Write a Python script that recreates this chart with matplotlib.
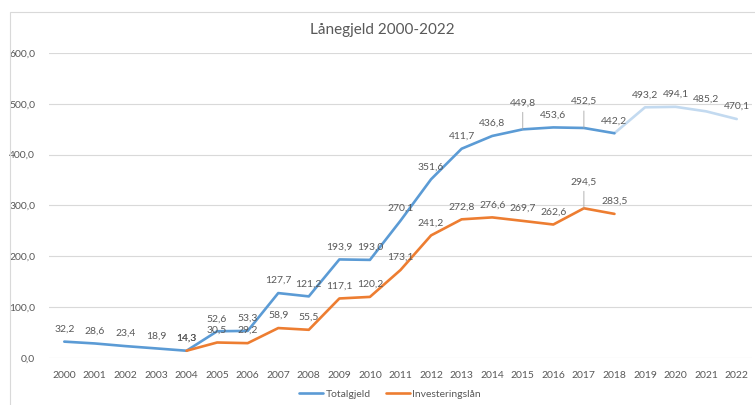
import matplotlib.pyplot as plt
from matplotlib.patches import Rectangle

plt.rcParams['font.family'] = ['Lato', 'DejaVu Sans']

years = [str(y) for y in range(2000, 2023)]

# Totalgjeld, 2000-2018 faktisk, 2019-2022 prognose
total = [32.2, 28.6, 23.4, 18.9, 14.3, 52.6, 53.3, 127.7, 121.2, 193.9, 193.0,
         270.1, 351.6, 411.7, 436.8, 449.8, 453.6, 452.5, 442.2,
         493.2, 494.1, 485.2, 470.1]
last_actual = 18  # index for 2018

# Investeringslån fra 2004 til 2018
invest_years = list(range(4, 19))
invest = [14.3, 30.5, 29.2, 58.9, 55.5, 117.1, 120.2, 173.1, 241.2, 272.8,
          276.6, 269.7, 262.6, 294.5, 283.5]

# etiketter som er løftet med strek
lifted_total = [15, 17]
lifted_invest = [17]

blue = '#5B9BD5'
light_blue = '#C3DAF0'
orange = '#ED7D31'
txt = '#595959'

fig = plt.figure(figsize=(7.55, 4.05), dpi=100)
fig.patches.append(Rectangle((10 / 755, -0.1), 1.0, 1 - 12 / 405 + 0.1,
                             transform=fig.transFigure, fill=False,
                             edgecolor='#D9D9D9', linewidth=0.8))

ax = fig.add_axes([49 / 755, 47 / 405, 703 / 755, 305 / 405])

x = list(range(len(years)))
ax.plot(x[last_actual:], total[last_actual:], color=light_blue, linewidth=1.9,
        solid_capstyle='round')
ax.plot(x[:last_actual + 1], total[:last_actual + 1], color=blue, linewidth=1.9,
        solid_capstyle='round', label='Totalgjeld')
ax.plot(invest_years, invest, color=orange, linewidth=1.9,
        solid_capstyle='round', label='Investeringslån')


def fmt(v):
    return f'{v:.1f}'.replace('.', ',')


def label(xi, v, lifted):
    if lifted:
        ax.annotate(fmt(v), (xi, v), xytext=(0, 19), textcoords='offset points',
                    ha='center', va='center', fontsize=7.5, color=txt,
                    arrowprops=dict(arrowstyle='-', color='#A6A6A6', lw=0.6,
                                    shrinkA=1.5, shrinkB=0))
    else:
        ax.annotate(fmt(v), (xi, v), xytext=(0, 9), textcoords='offset points',
                    ha='center', va='center', fontsize=7.5, color=txt)


for i, v in enumerate(total):
    label(i, v, i in lifted_total)
for i, v in zip(invest_years, invest):
    label(i, v, i in lifted_invest)

ax.set_xlim(-0.5, len(years) - 0.5)
ax.set_ylim(0, 600)
ax.set_xticks(x)
ax.set_xticklabels(years)
ax.set_yticks(range(0, 601, 100))
ax.set_yticklabels([fmt(v) for v in range(0, 601, 100)])
ax.tick_params(length=0, labelsize=7.5, labelcolor=txt, pad=9)
ax.tick_params(axis='y', pad=10)
ax.grid(axis='y', color='#D9D9D9', linewidth=0.8)
ax.set_axisbelow(True)
for s in ax.spines.values():
    s.set_visible(False)

fig.text(382 / 755, 1 - 30 / 405, 'Lånegjeld 2000-2022', ha='center', va='center',
         fontsize=11, color=txt)

fig.legend(loc='center', bbox_to_anchor=(390 / 755, 1 - 394 / 405), ncol=2,
           frameon=False, fontsize=7.5, labelcolor=txt, handlelength=2.3,
           handletextpad=0.2, columnspacing=1.5)

fig.savefig('out.png', dpi=100)
